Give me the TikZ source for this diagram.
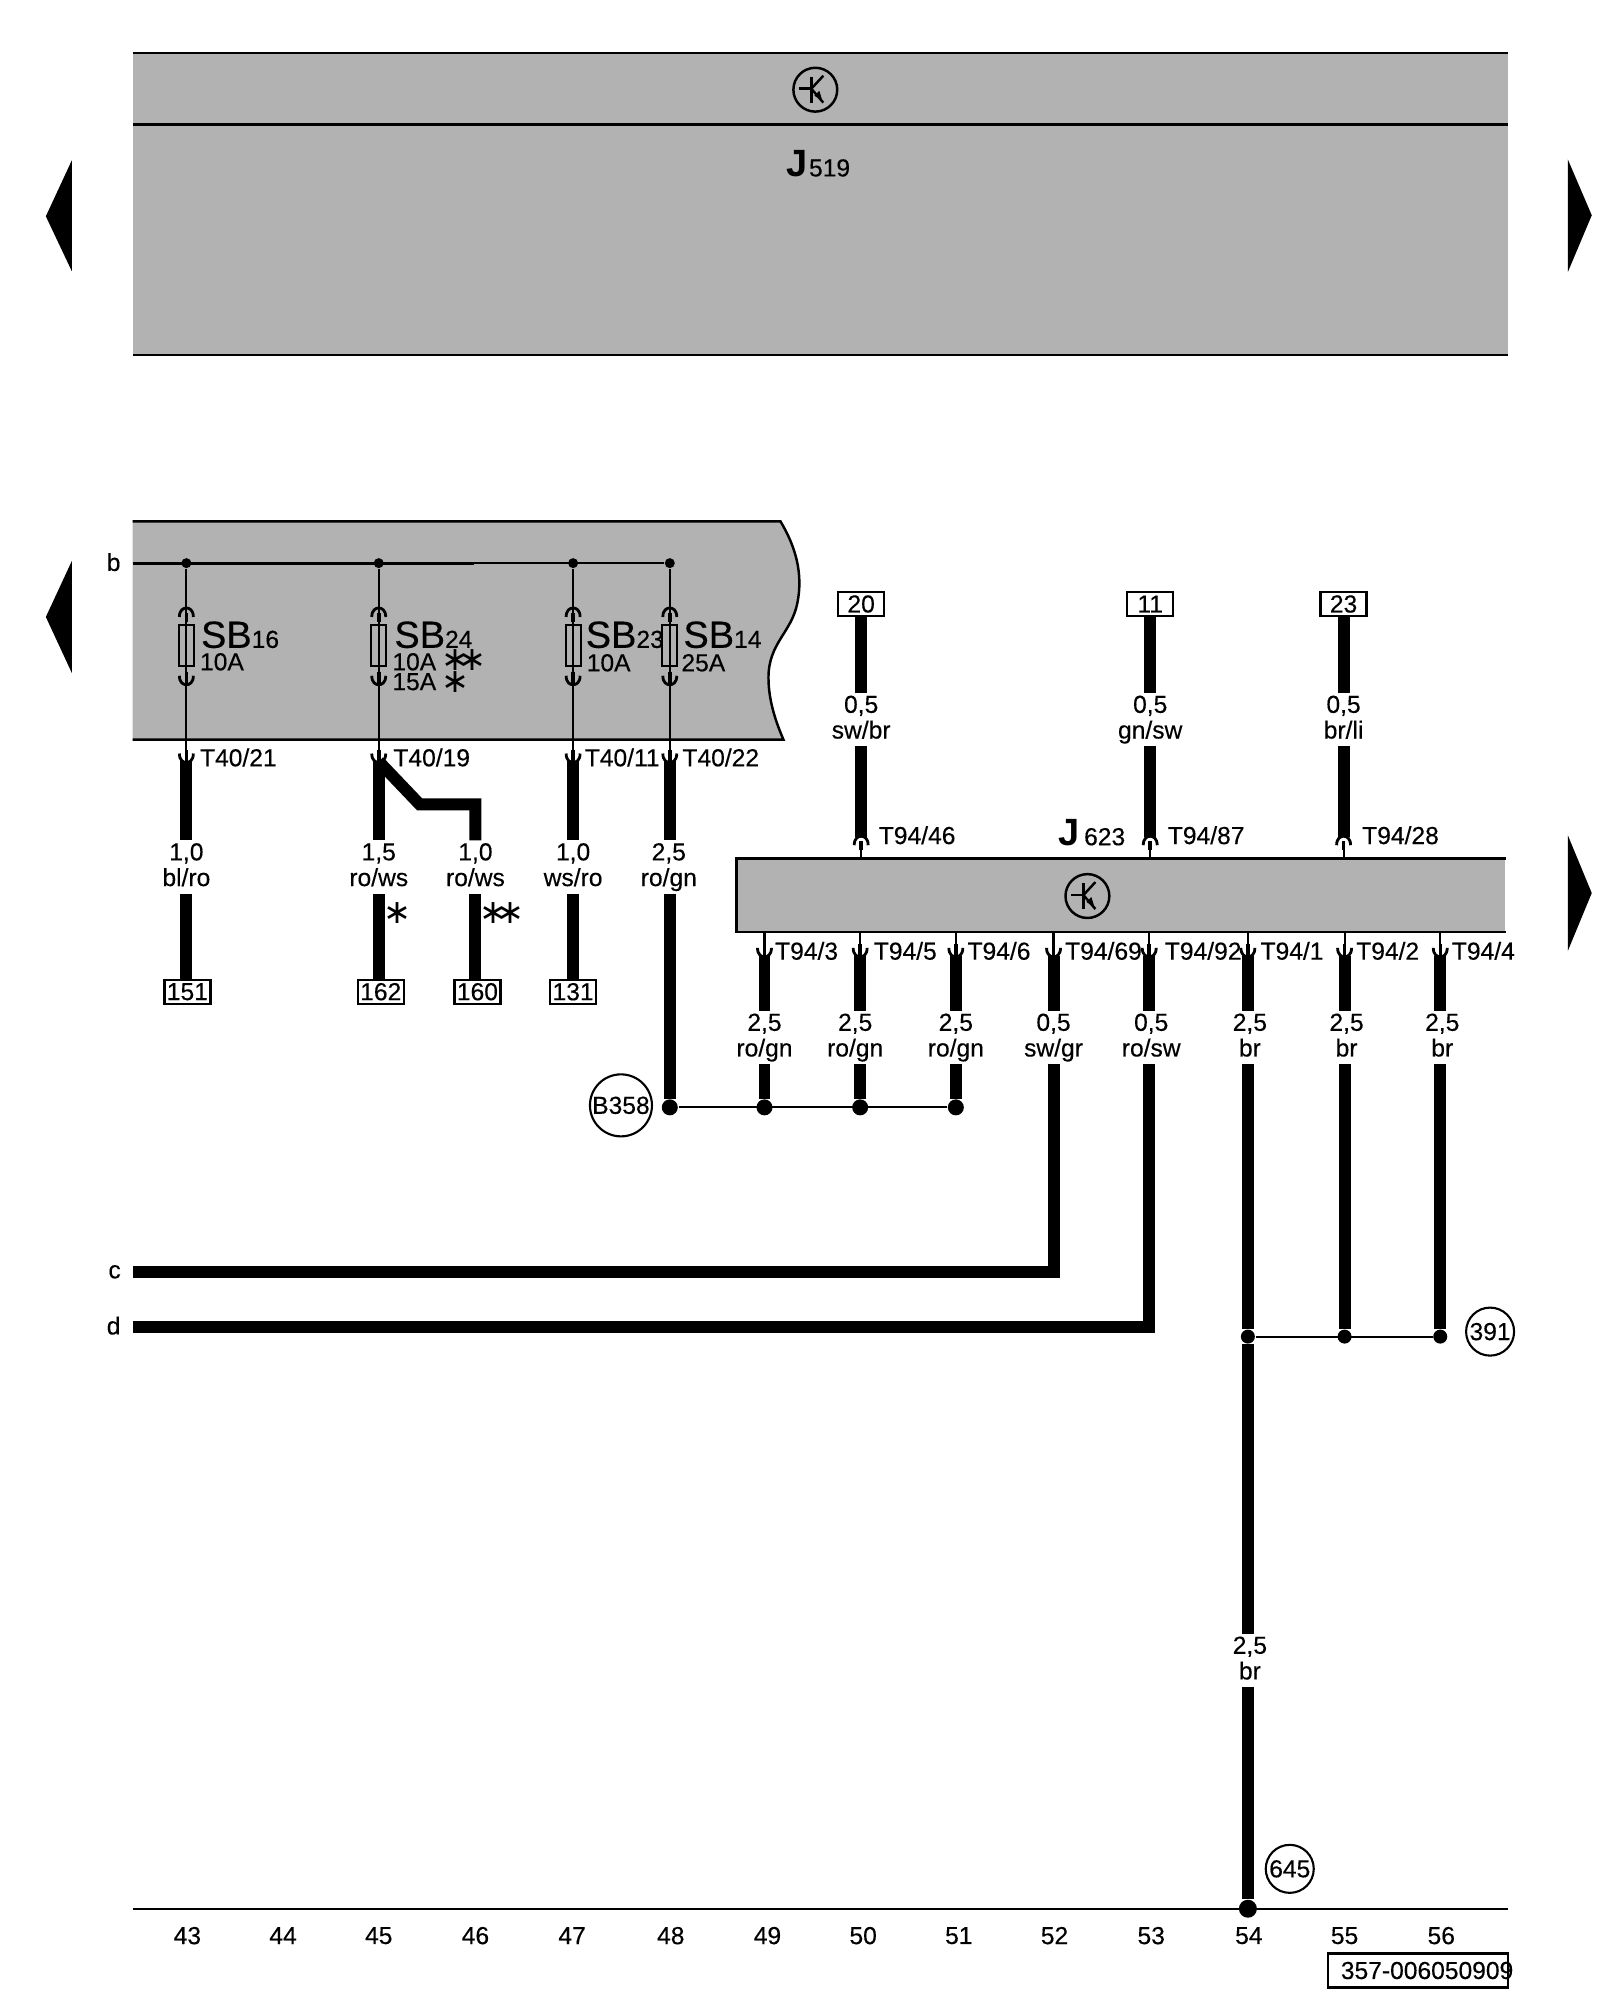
\documentclass[tikz,border=0pt]{standalone}
\usepackage{fontspec}
\setmainfont{Liberation Sans}
\newfontfamily\medfont[FakeBold=0.3]{Liberation Sans}
\newfontfamily\starfont{DejaVu Sans}
\usetikzlibrary{positioning, calc}
\definecolor{boxgrey}{RGB}{178,178,178}
\def\lbl{\medfont\fontsize{7}{7.3}\selectfont}
\def\sbfont{\medfont\fontsize{10.8}{12}\selectfont}
\def\jfont{\fontsize{10.8}{12}\selectfont\bfseries}
\def\sz#1#2{\vphantom{0,g}#1\\\vphantom{0,g}#2}
\def\onestar{∗}
\def\twostar{∗\kern-0.33em∗}

\begin{document}
\begin{tikzpicture}[
    x=0.009967cm, y=-0.009967cm,
    wire/.style={line width=3.4pt},
    thinwire/.style={line width=0.6pt},
    buswire/.style={line width=0.8pt},
    edge/.style={line width=0.7pt},
    term/.style={font=\lbl, anchor=west, inner sep=0pt},
    sizelabel/.style={font=\lbl, align=center, inner sep=0pt, minimum height=0.52cm, yshift=-0.02cm},
    plug/.style={draw, line width=0.7pt, font=\lbl, inner sep=0pt, minimum width=0.46cm, minimum height=0.24cm},
    circled/.style={draw, circle, line width=0.6pt, font=\lbl, inner sep=0pt},
    fuse/.style={draw, line width=0.6pt, inner sep=0pt, minimum width=0.15cm, minimum height=0.41cm},
    smalldot/.style={circle, fill, inner sep=0pt, minimum size=0.1cm},
    bigdot/.style={circle, fill, inner sep=0pt, minimum size=0.16cm},
    colnum/.style={font=\lbl, inner sep=0pt},
    startext/.style={font=\starfont\fontsize{9.5}{9.5}\selectfont, inner sep=0pt},
    pindown/.pic={
        \draw[line width=0.8pt] (-7,-8) .. controls (-7,-1) and (-3,1) .. (0,1) .. controls (3,1) and (7,-1) .. (7,-8);
        \draw[line width=1pt] (0,-12) -- (0,0);
    },
    pinup/.pic={
        \draw[line width=0.8pt] (-7,8) .. controls (-7,1) and (-3,-1) .. (0,-1) .. controls (3,-1) and (7,1) .. (7,8);
        \draw[line width=1pt] (0,13) -- (0,4);
    },
    ecusym/.pic={
        \draw[line width=0.7pt] (0,0) circle (22);
        \draw[line width=0.7pt] (-16,-1) -- (-4,-1);
        \draw[line width=0.7pt] (-4,-13) -- (-4,13);
        \draw[line width=0.7pt] (-4,-1) -- (8,-14);
        \draw[line width=0.7pt] (-4,-1) -- (8,13);
        \fill (7,11) -- (-1,6) -- (4,1) -- cycle;
    },
]
\useasboundingbox (0,0) rectangle (1605.3,2006.6);

% Side arrows
\fill (72,161) -- (46,217) -- (72,272) -- cycle;
\fill (72,563) -- (46,619) -- (72,675) -- cycle;
\fill (1573,160) -- (1597,216) -- (1573,273) -- cycle;
\fill (1573,838) -- (1597,896) -- (1573,954) -- cycle;

% Upper unit J519
\fill[boxgrey] (133,53) rectangle (1513,356);
\draw[edge] (133,53) -- (1513,53);
\draw[edge] (133,125) -- (1513,125);
\draw[edge] (133,356) -- (1513,356);
\pic at (818,90) {ecusym};
\node[anchor=base west, inner sep=0pt, font=\jfont] (J519) at (788,177) {J};
\node[anchor=base west, inner sep=0pt, font=\lbl] (J519sub) at (811,177) {519};

% Fuse carrier SB
\fill[boxgrey] (133,523) -- (783,523) .. controls (798,548) and (806,575) .. (800,605)
    .. controls (794,635) and (771,645) .. (771,680) .. controls (771,705) and (780,728) .. (786,742) -- (133,742) -- cycle;
\draw[edge] (133,523) -- (783,523) .. controls (798,548) and (806,575) .. (800,605)
    .. controls (794,635) and (771,645) .. (771,680) .. controls (771,705) and (780,728) .. (786,742) -- (133,742);

% Bus b
\node[font=\lbl, inner sep=0pt] (b) at (114,564) {b};
\coordinate (busstart) at (133,565);
\coordinate (busmid) at (476,565);
\node[smalldot] (bus16) at (187,565) {};
\node[smalldot] (bus24) at (380,565) {};
\node[smalldot] (bus23) at (575,565) {};
\node[smalldot] (bus14) at (672,565) {};
\draw[buswire] (busstart) -- (busmid);
\draw[thinwire] (busmid) -- (bus14);

% Fuses
\node[fuse] (fuse16) at (187,648) {};
\node[fuse] (fuse24) at (380,648) {};
\node[fuse] (fuse23) at (575,648) {};
\node[fuse] (fuse14) at (672,648) {};
\pic at (187,611) {pinup};
\pic at (380,611) {pinup};
\pic at (575,611) {pinup};
\pic at (672,611) {pinup};
\pic at (187,686) {pindown};
\pic at (380,686) {pindown};
\pic at (575,686) {pindown};
\pic at (672,686) {pindown};
\node[anchor=base west, inner sep=0pt, font=\sbfont] (sb16) at (201,650) {SB\lbl 16};
\node[anchor=base west, inner sep=0pt, font=\sbfont] (sb24) at (395,650) {SB\lbl 24};
\node[anchor=base west, inner sep=0pt, font=\sbfont] (sb23) at (587,650) {SB\lbl 23};
\node[anchor=base west, inner sep=0pt, font=\sbfont] (sb14) at (685,650) {SB\lbl 14};
\node[term] (amp16) at (200,664) {10A};
\node[term] (amp24a) at (393,664) {10A};
\node[term] (amp24b) at (393,684) {15A};
\node[term] (amp23) at (588,665) {10A};
\node[term] (amp14) at (683,665) {25A};
\node[startext, anchor=west] (star24a) at (442,662) {\twostar};
\node[startext, anchor=west] (star24b) at (442,684) {\onestar};

% Plug T40
\coordinate (t21) at (187,764);
\coordinate (t19) at (380,764);
\coordinate (t11) at (575,764);
\coordinate (t22) at (672,764);
\draw[thinwire] (bus16) -- (t21);
\draw[thinwire] (bus24) -- (t19);
\draw[thinwire] (bus23) -- (t11);
\draw[thinwire] (bus14) -- (t22);
\pic at (t21) {pindown};
\pic at (t19) {pindown};
\pic at (t11) {pindown};
\pic at (t22) {pindown};
\node[term] (lt21) at (200,760) {T40/21};
\node[term] (lt19) at (394,760) {T40/19};
\node[term] (lt11) at (586,760) {T40/11};
\node[term] (lt22) at (684,760) {T40/22};

% Wires below T40
\node[sizelabel] (w151) at (187,868) {\sz{1,0}{bl/ro}};
\node[sizelabel] (w162) at (380,868) {\sz{1,5}{ro/ws}};
\node[sizelabel] (w160) at (477,868) {\sz{1,0}{ro/ws}};
\node[sizelabel] (w131) at (575,868) {\sz{1,0}{ws/ro}};
\node[sizelabel] (w358) at (671,868) {\sz{2,5}{ro/gn}};
\node[plug] (p151) at (188,995) {151};
\node[plug] (p162) at (382,995) {162};
\node[plug] (p160) at (479,995) {160};
\node[plug] (p131) at (575,995) {131};
\coordinate (bend1) at (421,807);
\coordinate (bend2) at (477,807);
\draw[wire] (t21) -- (t21 |- w151.north);
\draw[wire] (t21 |- w151.south) -- (t21 |- p151.north);
\draw[wire] (t19) -- (t19 |- w162.north);
\draw[wire] (t19 |- w162.south) -- (t19 |- p162.north);
\draw[wire, miter limit=3] (t19) -- (bend1) -- (bend2) -- (bend2 |- w160.north);
\draw[wire] (bend2 |- w160.south) -- (bend2 |- p160.north);
\draw[wire] (t11) -- (t11 |- w131.north);
\draw[wire] (t11 |- w131.south) -- (t11 |- p131.north);
\node[startext] (star162) at (399,916) {\onestar};
\node[startext] (star160) at (504,916) {\twostar};

% Ground point B358
\node[bigdot] (n48) at (672,1111) {};
\node[bigdot] (n49) at (767,1111) {};
\node[bigdot] (n50) at (863,1111) {};
\node[bigdot] (n51) at (959,1111) {};
\node[circled, minimum size=0.62cm] (B358) at (623,1109) {B358};
\draw[wire] (t22) -- (t22 |- w358.north);
\draw[wire] (t22 |- w358.south) -- (n48);
\draw[thinwire] (n48) -- (n51);

% Control unit J623
\node[fill=boxgrey, inner sep=0pt, minimum width=7.68cm, minimum height=0.72cm] (J623) at (1125,898) {};
\draw[edge] (J623.north east) -- (J623.north west) -- (J623.south west) -- (J623.south east);
\pic at (1091,899) {ecusym};
\node[anchor=base west, inner sep=0pt, font=\jfont] (J623name) at (1061,848) {J};
\node[anchor=base west, inner sep=0pt, font=\lbl] (J623sub) at (1087,848) {623};

% Inputs of J623
\node[plug] (p20) at (864,606) {20};
\node[plug] (p11) at (1154,606) {11};
\node[plug] (p23) at (1348,606) {23};
\node[sizelabel] (w20) at (864,720) {\sz{0,5}{sw/br}};
\node[sizelabel] (w11) at (1154,720) {\sz{0,5}{gn/sw}};
\node[sizelabel] (w23) at (1348,720) {\sz{0,5}{br/li}};
\coordinate (t46) at (864,840);
\coordinate (t87) at (1154,840);
\coordinate (t28) at (1348,840);
\draw[wire] (p20) -- (w20.north);
\draw[wire] (w20.south) -- (t46);
\draw[wire] (p11) -- (w11.north);
\draw[wire] (w11.south) -- (t87);
\draw[wire] (p23) -- (w23.north);
\draw[wire] (w23.south) -- (t28);
\draw[thinwire] (t46) ++(0,10) -- (t46 |- J623.north);
\draw[thinwire] (t87) ++(0,10) -- (t87 |- J623.north);
\draw[thinwire] (t28) ++(0,10) -- (t28 |- J623.north);
\pic at (t46) {pinup};
\pic at (t87) {pinup};
\pic at (t28) {pinup};
\node[term] (lt46) at (881,838) {T94/46};
\node[term] (lt87) at (1171,838) {T94/87};
\node[term] (lt28) at (1366,838) {T94/28};

% Outputs of J623
\coordinate (t3) at (767,959);
\coordinate (t5) at (863,959);
\coordinate (t6) at (959,959);
\coordinate (t69) at (1057,959);
\coordinate (t92) at (1153,959);
\coordinate (t1) at (1252,959);
\coordinate (t2) at (1349,959);
\coordinate (t4) at (1445,959);
\draw[thinwire] (t3) -- (t3 |- J623.south);
\draw[thinwire] (t5) -- (t5 |- J623.south);
\draw[thinwire] (t6) -- (t6 |- J623.south);
\draw[thinwire] (t69) -- (t69 |- J623.south);
\draw[thinwire] (t92) -- (t92 |- J623.south);
\draw[thinwire] (t1) -- (t1 |- J623.south);
\draw[thinwire] (t2) -- (t2 |- J623.south);
\draw[thinwire] (t4) -- (t4 |- J623.south);
\pic at (t3) {pindown};
\pic at (t5) {pindown};
\pic at (t6) {pindown};
\pic at (t69) {pindown};
\pic at (t92) {pindown};
\pic at (t1) {pindown};
\pic at (t2) {pindown};
\pic at (t4) {pindown};
\node[term] (lt3) at (777,954) {T94/3};
\node[term] (lt5) at (876,954) {T94/5};
\node[term] (lt6) at (970,954) {T94/6};
\node[term] (lt69) at (1068,954) {T94/69};
\node[term] (lt92) at (1168,954) {T94/92};
\node[term] (lt1) at (1264,954) {T94/1};
\node[term] (lt2) at (1360,954) {T94/2};
\node[term] (lt4) at (1456,954) {T94/4};
\node[sizelabel] (w3) at (767,1039) {\sz{2,5}{ro/gn}};
\node[sizelabel] (w5) at (858,1039) {\sz{2,5}{ro/gn}};
\node[sizelabel] (w6) at (959,1039) {\sz{2,5}{ro/gn}};
\node[sizelabel] (w69) at (1057,1039) {\sz{0,5}{sw/gr}};
\node[sizelabel] (w92) at (1155,1039) {\sz{0,5}{ro/sw}};
\node[sizelabel] (w1) at (1254,1039) {\sz{2,5}{br}};
\node[sizelabel] (w2) at (1351,1039) {\sz{2,5}{br}};
\node[sizelabel] (w4) at (1447,1039) {\sz{2,5}{br}};
\draw[wire] (t3) -- (t3 |- w3.north);
\draw[wire] (t3 |- w3.south) -- (n49);
\draw[wire] (t5) -- (t5 |- w5.north);
\draw[wire] (t5 |- w5.south) -- (n50);
\draw[wire] (t6) -- (t6 |- w6.north);
\draw[wire] (t6 |- w6.south) -- (n51);

% Lines c and d
\node[font=\lbl, inner sep=0pt] (c) at (115,1276) {c};
\node[font=\lbl, inner sep=0pt] (d) at (114,1330) {d};
\coordinate (cstart) at (133,1276);
\coordinate (dstart) at (133,1331);
\draw[wire] (t69) -- (t69 |- w69.north);
\draw[wire] (t92) -- (t92 |- w92.north);
\draw[wire] (t69 |- w69.south) |- (cstart);
\draw[wire] (t92 |- w92.south) |- (dstart);

% Ground wires
\node[smalldot, minimum size=0.14cm] (n54) at (1252,1341) {};
\node[smalldot, minimum size=0.14cm] (n55) at (1349,1341) {};
\node[smalldot, minimum size=0.14cm] (n56) at (1445,1341) {};
\node[circled, minimum size=0.48cm] (c391) at (1495,1336) {391};
\node[sizelabel] (wmain) at (1254,1664) {\sz{2,5}{br}};
\node[circled, minimum size=0.48cm] (c645) at (1294,1875) {645};
\node[bigdot, minimum size=0.18cm] (n645) at (1252,1915) {};
\draw[wire] (t1) -- (t1 |- w1.north);
\draw[wire] (t1 |- w1.south) -- (n54);
\draw[wire] (t2) -- (t2 |- w2.north);
\draw[wire] (t2 |- w2.south) -- (n55);
\draw[wire] (t4) -- (t4 |- w4.north);
\draw[wire] (t4 |- w4.south) -- (n56);
\draw[thinwire] (n54) -- (n56);
\draw[wire] (n54) -- (n54 |- wmain.north);
\draw[wire] (n54 |- wmain.south) -- (n645);

% Column numbers
\draw[thinwire] (133,1915) -- (1513,1915);
\node[colnum] (c43) at (188,1942) {43};
\node[colnum] (c44) at (284,1942) {44};
\node[colnum] (c45) at (380,1942) {45};
\node[colnum] (c46) at (477,1942) {46};
\node[colnum] (c47) at (574,1942) {47};
\node[colnum] (c48) at (673,1942) {48};
\node[colnum] (c49) at (770,1942) {49};
\node[colnum] (c50) at (866,1942) {50};
\node[colnum] (c51) at (962,1942) {51};
\node[colnum] (c52) at (1058,1942) {52};
\node[colnum] (c53) at (1155,1942) {53};
\node[colnum] (c54) at (1253,1942) {54};
\node[colnum] (c55) at (1349,1942) {55};
\node[colnum] (c56) at (1446,1942) {56};

% Picture number
\node[draw, line width=0.7pt, inner sep=0pt, minimum width=1.8cm, minimum height=0.34cm] (numbox) at (1422.5,1977) {};
\node[anchor=east, font=\lbl, inner sep=0pt] (num) at (1519,1977) {357-006050909};

\end{tikzpicture}
\end{document}
